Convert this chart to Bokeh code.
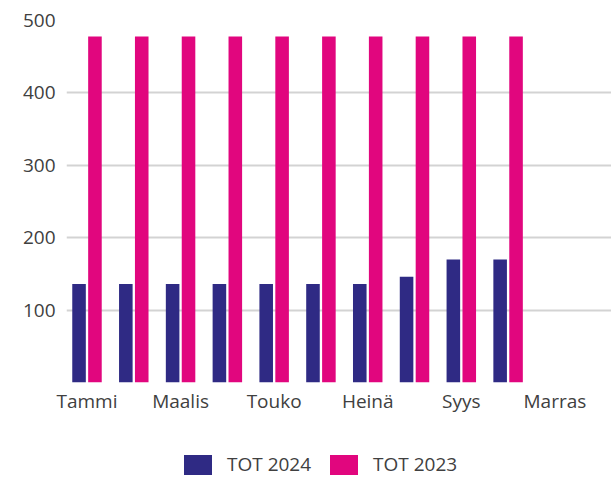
from bokeh.plotting import figure
from bokeh.layouts import column
from bokeh.models import (Range1d, FixedTicker, Legend, LegendItem, ColumnDataSource)
from bokeh.transform import dodge
from bokeh.embed import file_html
from bokeh.resources import INLINE

months = ["Tammi", "Helmi", "Maalis", "Huhti", "Touko", "Kesä",
          "Heinä", "Elo", "Syys", "Loka", "Marras", "Joulu"]
tot_2024 = [136, 136, 136, 136, 136, 136, 136, 146, 170, 170]
tot_2023 = [478, 478, 478, 478, 478, 478, 478, 478, 478, 478]
series_names = ["TOT 2024", "TOT 2023"]
y_ticks = [0, 100, 200, 300, 400, 500]
x_label_idx = [0, 2, 4, 6, 8, 10]

BLUE = "#2f2a84"
PINK = "#e1067e"
TEXT = "#404040"
FONT = "Open Sans"

src = ColumnDataSource(dict(
    x=list(range(len(tot_2024))),
    t24=tot_2024,
    t23=tot_2023,
))

p = figure(width=611, height=420, output_backend="svg", toolbar_location=None,
           x_range=Range1d(-0.438, 11.21), y_range=Range1d(0, 500),
           min_border_left=66, min_border_top=20, min_border_right=0,
           min_border_bottom=38)
p.outline_line_color = None
p.background_fill_color = "white"
p.border_fill_color = "white"

r1 = p.vbar(x=dodge("x", -0.17, range=p.x_range), top="t24", width=0.29,
            source=src, fill_color=BLUE, line_color=None)
r2 = p.vbar(x=dodge("x", 0.17, range=p.x_range), top="t23", width=0.29,
            source=src, fill_color=PINK, line_color=None)

p.yaxis.ticker = FixedTicker(ticks=y_ticks)
p.yaxis.major_label_overrides = {0: ""}
p.yaxis.axis_line_color = None
p.yaxis.major_tick_line_color = None
p.yaxis.minor_tick_line_color = None
p.yaxis.major_tick_out = 0
p.yaxis.major_tick_in = 0
p.yaxis.minor_tick_out = 0
p.yaxis.major_label_standoff = 11
p.yaxis.major_label_text_font = FONT
p.yaxis.major_label_text_font_size = "19px"
p.yaxis.major_label_text_color = TEXT

p.xaxis.ticker = FixedTicker(ticks=x_label_idx)
p.xaxis.major_label_overrides = {i: months[i] for i in x_label_idx}
p.xaxis.axis_line_color = None
p.xaxis.major_tick_line_color = None
p.xaxis.minor_tick_line_color = None
p.xaxis.major_tick_out = 0
p.xaxis.major_tick_in = 0
p.xaxis.minor_tick_out = 0
p.xaxis.major_label_standoff = 5
p.xaxis.major_label_text_font = FONT
p.xaxis.major_label_text_font_size = "19px"
p.xaxis.major_label_text_color = TEXT

p.xgrid.grid_line_color = None
p.ygrid.ticker = FixedTicker(ticks=y_ticks)
p.ygrid.grid_line_color = "#d3d3d3"
p.ygrid.grid_line_width = 2

# legend strip below the chart (its bars fall outside its visible range)
p2 = figure(width=611, height=59, output_backend="svg", toolbar_location=None,
            x_range=Range1d(-0.438, 11.21), y_range=Range1d(1000, 1001),
            min_border=0, x_axis_type=None, y_axis_type=None)
p2.outline_line_color = None
p2.grid.visible = False
l1 = p2.vbar(x="x", top="t24", width=0.29, source=src, fill_color=BLUE, line_color=None)
l2 = p2.vbar(x="x", top="t23", width=0.29, source=src, fill_color=PINK, line_color=None)

legend = Legend(items=[LegendItem(label=series_names[0], renderers=[l1]),
                       LegendItem(label=series_names[1], renderers=[l2])],
                orientation="horizontal", location=(114, 2),
                glyph_width=35, glyph_height=25, label_standoff=12, spacing=15,
                padding=0, margin=0, border_line_color=None,
                label_text_font=FONT, label_text_font_size="19px",
                label_text_color=TEXT, background_fill_alpha=0)
p2.add_layout(legend, "center")

layout = column(p, p2, spacing=0)
open("out.html", "w").write(file_html(layout, INLINE))
